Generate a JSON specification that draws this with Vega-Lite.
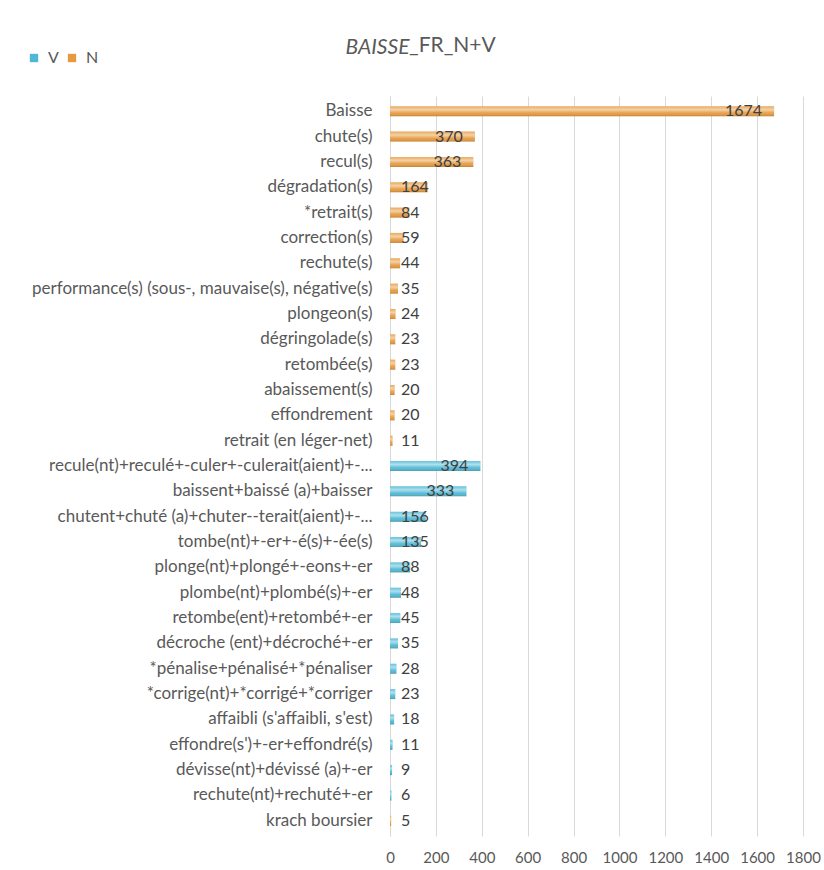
{
  "$schema": "https://vega.github.io/schema/vega-lite/v6.json",
  "autosize": {"type": "none"},
  "width": 413,
  "height": 740,
  "padding": {"left": 390, "top": 96, "right": 21, "bottom": 34},
  "background": "white",
  "title": {
    "text": "_FR_N+V",
    "anchor": "start",
    "frame": "group",
    "dx": 19,
    "dy": 50,
    "offset": 30,
    "font": "Lato",
    "fontSize": 21,
    "fontWeight": "normal",
    "color": "#595959"
  },
  "data": {
    "values": [
      {"i": 1, "label": "Baisse", "type": "N", "value": 1674},
      {"i": 2, "label": "chute(s)", "type": "N", "value": 370},
      {"i": 3, "label": "recul(s)", "type": "N", "value": 363},
      {"i": 4, "label": "dégradation(s)", "type": "N", "value": 164},
      {"i": 5, "label": "*retrait(s)", "type": "N", "value": 84},
      {"i": 6, "label": "correction(s)", "type": "N", "value": 59},
      {"i": 7, "label": "rechute(s)", "type": "N", "value": 44},
      {"i": 8, "label": "performance(s) (sous-, mauvaise(s), négative(s)", "type": "N", "value": 35},
      {"i": 9, "label": "plongeon(s)", "type": "N", "value": 24},
      {"i": 10, "label": "dégringolade(s)", "type": "N", "value": 23},
      {"i": 11, "label": "retombée(s)", "type": "N", "value": 23},
      {"i": 12, "label": "abaissement(s)", "type": "N", "value": 20},
      {"i": 13, "label": "effondrement", "type": "N", "value": 20},
      {"i": 14, "label": "retrait (en léger-net)", "type": "N", "value": 11},
      {"i": 15, "label": "recule(nt)+reculé+-culer+-culerait(aient)+-...", "type": "V", "value": 394},
      {"i": 16, "label": "baissent+baissé (a)+baisser", "type": "V", "value": 333},
      {"i": 17, "label": "chutent+chuté (a)+chuter--terait(aient)+-...", "type": "V", "value": 156},
      {"i": 18, "label": "tombe(nt)+-er+-é(s)+-ée(s)", "type": "V", "value": 135},
      {"i": 19, "label": "plonge(nt)+plongé+-eons+-er", "type": "V", "value": 88},
      {"i": 20, "label": "plombe(nt)+plombé(s)+-er", "type": "V", "value": 48},
      {"i": 21, "label": "retombe(ent)+retombé+-er", "type": "V", "value": 45},
      {"i": 22, "label": "décroche (ent)+décroché+-er", "type": "V", "value": 35},
      {"i": 23, "label": "*pénalise+pénalisé+*pénaliser", "type": "V", "value": 28},
      {"i": 24, "label": "*corrige(nt)+*corrigé+*corriger", "type": "V", "value": 23},
      {"i": 25, "label": "affaibli (s'affaibli, s'est)", "type": "V", "value": 18},
      {"i": 26, "label": "effondre(s')+-er+effondré(s)", "type": "V", "value": 11},
      {"i": 27, "label": "dévisse(nt)+dévissé (a)+-er", "type": "V", "value": 9},
      {"i": 28, "label": "rechute(nt)+rechuté+-er", "type": "V", "value": 6},
      {"i": 29, "label": "krach boursier", "type": "N", "value": 5}
    ]
  },
  "encoding": {
    "y": {
      "field": "label",
      "type": "nominal",
      "sort": [
        "Baisse", "chute(s)", "recul(s)", "dégradation(s)", "*retrait(s)", "correction(s)", "rechute(s)",
        "performance(s) (sous-, mauvaise(s), négative(s)", "plongeon(s)", "dégringolade(s)", "retombée(s)",
        "abaissement(s)", "effondrement", "retrait (en léger-net)",
        "recule(nt)+reculé+-culer+-culerait(aient)+-...", "baissent+baissé (a)+baisser",
        "chutent+chuté (a)+chuter--terait(aient)+-...", "tombe(nt)+-er+-é(s)+-ée(s)",
        "plonge(nt)+plongé+-eons+-er", "plombe(nt)+plombé(s)+-er", "retombe(ent)+retombé+-er",
        "décroche (ent)+décroché+-er", "*pénalise+pénalisé+*pénaliser", "*corrige(nt)+*corrigé+*corriger",
        "affaibli (s'affaibli, s'est)", "effondre(s')+-er+effondré(s)", "dévisse(nt)+dévissé (a)+-er",
        "rechute(nt)+rechuté+-er", "krach boursier"
      ],
      "scale": {"paddingInner": 0, "paddingOuter": 0.1},
      "axis": {
        "title": "BAISSE",
        "titleAngle": 0,
        "titleX": 19,
        "titleY": -49,
        "titleAlign": "right",
        "titleBaseline": "middle",
        "titleFont": "Lato",
        "titleFontSize": 21,
        "titleFontStyle": "italic",
        "titleFontWeight": "normal",
        "titleColor": "#595959",
        "ticks": false,
        "domain": true,
        "domainColor": "#d9d9d9",
        "labelFont": "Lato",
        "labelFontSize": 17,
        "labelColor": "#595959",
        "labelPadding": 18,
        "labelLimit": 400,
        "minExtent": 380,
        "maxExtent": 380
      }
    }
  },
  "layer": [
    {
      "mark": {"type": "bar", "size": 10},
      "encoding": {
        "x": {
          "field": "value",
          "type": "quantitative",
          "scale": {"domain": [0, 1800], "nice": false},
          "axis": {
            "title": null,
            "values": [0, 200, 400, 600, 800, 1000, 1200, 1400, 1600, 1800],
            "format": "d",
            "labelOverlap": false,
            "labelFlush": false,
            "grid": true,
            "gridColor": "#d9d9d9",
            "domain": false,
            "ticks": false,
            "labelFont": "Lato",
            "labelFontSize": 15,
            "labelColor": "#595959",
            "labelPadding": 14
          }
        },
        "color": {
          "field": "type",
          "type": "nominal",
          "scale": {"domain": ["V", "N"], "range": ["#4cb8d6", "#e59a3f"]},
          "legend": {
            "title": null,
            "orient": "none",
            "legendX": -364,
            "legendY": -46,
            "direction": "horizontal",
            "symbolType": "square",
            "symbolSize": 70,
            "symbolStrokeWidth": 0,
            "labelFont": "Lato",
            "labelFontSize": 16,
            "labelColor": "#595959",
            "labelOffset": 6,
            "columnPadding": 5
          }
        }
      }
    },
    {
      "mark": {
        "type": "bar",
        "size": 10,
        "fill": {
          "gradient": "linear",
          "x1": 0, "y1": 0, "x2": 0, "y2": 1,
          "stops": [
            {"offset": 0, "color": "rgba(255,255,255,0.15)"},
            {"offset": 0.35, "color": "rgba(255,255,255,0.55)"},
            {"offset": 0.7, "color": "rgba(255,255,255,0.05)"},
            {"offset": 1, "color": "rgba(90,50,10,0.25)"}
          ]
        }
      },
      "encoding": {
        "x": {
          "field": "value",
          "type": "quantitative",
          "axis": {
            "title": null,
            "values": [0, 200, 400, 600, 800, 1000, 1200, 1400, 1600, 1800],
            "format": "d",
            "labelOverlap": false,
            "labelFlush": false,
            "grid": true,
            "gridColor": "#d9d9d9",
            "domain": false,
            "ticks": false,
            "labelFont": "Lato",
            "labelFontSize": 15,
            "labelColor": "#595959",
            "labelPadding": 14
          }
        }
      }
    },
    {
      "transform": [{"filter": "datum.value >= 200"}],
      "mark": {"type": "text", "align": "right", "dx": -12, "font": "Lato", "fontSize": 16, "color": "#404040"},
      "encoding": {
        "x": {
          "field": "value",
          "type": "quantitative",
          "axis": {
            "title": null,
            "values": [0, 200, 400, 600, 800, 1000, 1200, 1400, 1600, 1800],
            "format": "d",
            "labelOverlap": false,
            "labelFlush": false,
            "grid": true,
            "gridColor": "#d9d9d9",
            "domain": false,
            "ticks": false,
            "labelFont": "Lato",
            "labelFontSize": 15,
            "labelColor": "#595959",
            "labelPadding": 14
          }
        },
        "text": {"field": "value", "type": "quantitative"}
      }
    },
    {
      "transform": [{"filter": "datum.value < 200"}],
      "mark": {"type": "text", "align": "left", "dx": 11, "font": "Lato", "fontSize": 16, "color": "#404040"},
      "encoding": {
        "x": {
          "datum": 0,
          "type": "quantitative",
          "axis": {
            "title": null,
            "values": [0, 200, 400, 600, 800, 1000, 1200, 1400, 1600, 1800],
            "format": "d",
            "labelOverlap": false,
            "labelFlush": false,
            "grid": true,
            "gridColor": "#d9d9d9",
            "domain": false,
            "ticks": false,
            "labelFont": "Lato",
            "labelFontSize": 15,
            "labelColor": "#595959",
            "labelPadding": 14
          }
        },
        "text": {"field": "value", "type": "quantitative"}
      }
    }
  ],
  "config": {
    "view": {"stroke": null}
  }
}
